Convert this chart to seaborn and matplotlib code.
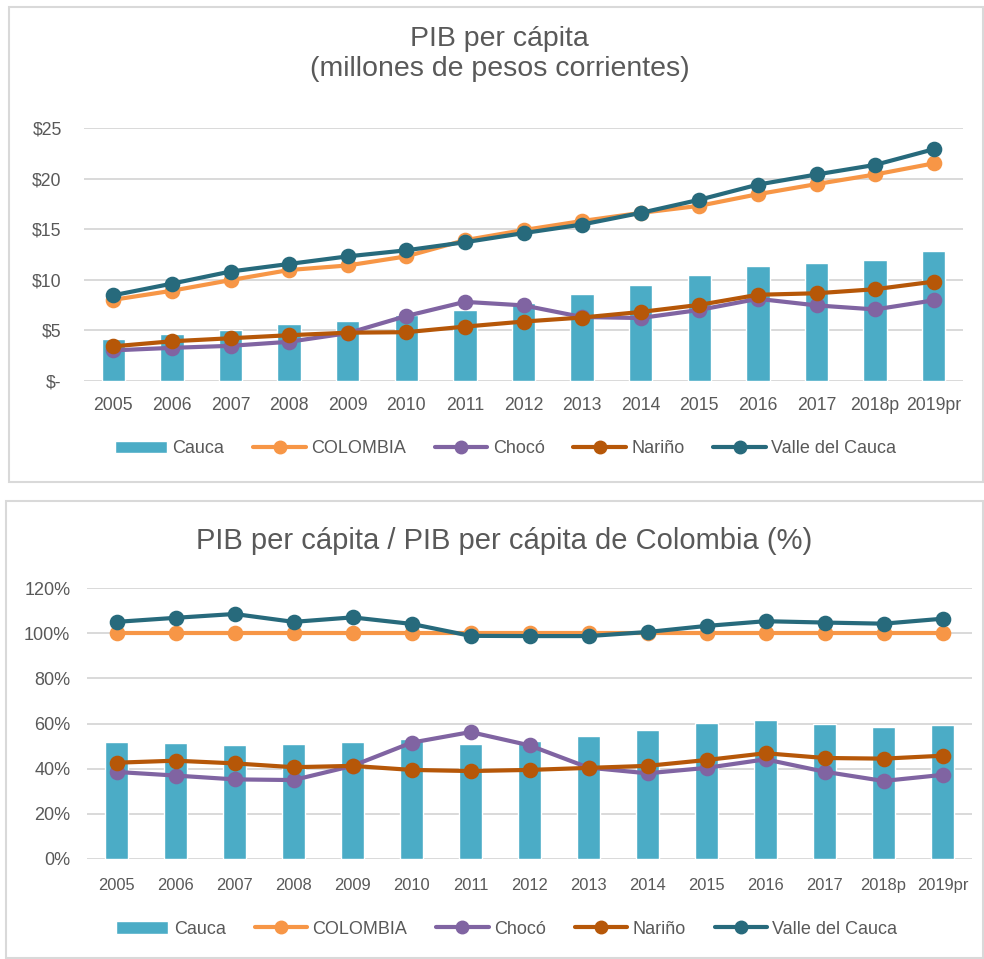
import numpy as np
import pandas as pd
import matplotlib
matplotlib.use('Agg')
import matplotlib.pyplot as plt
import seaborn as sns
from matplotlib.patches import Rectangle, Patch
from matplotlib.lines import Line2D
from matplotlib.ticker import FuncFormatter, MultipleLocator

anios = ['2005', '2006', '2007', '2008', '2009', '2010', '2011', '2012',
         '2013', '2014', '2015', '2016', '2017', '2018p', '2019pr']

# PIB per cápita, millones de pesos corrientes
cauca = [4.15, 4.6, 5.0, 5.6, 5.95, 6.5, 7.0, 7.7, 8.55, 9.5, 10.45, 11.35, 11.65, 11.95, 12.8]
colombia = [8.0, 8.9, 9.95, 10.95, 11.4, 12.3, 13.9, 14.9, 15.8, 16.6, 17.3, 18.45, 19.45, 20.4, 21.5]
choco = [3.0, 3.25, 3.45, 3.85, 4.7, 6.4, 7.8, 7.45, 6.3, 6.2, 7.0, 8.1, 7.45, 7.05, 7.95]
narino = [3.4, 3.9, 4.2, 4.5, 4.75, 4.8, 5.35, 5.85, 6.25, 6.8, 7.5, 8.5, 8.65, 9.05, 9.8]
valle = [8.45, 9.6, 10.8, 11.55, 12.3, 12.9, 13.7, 14.6, 15.45, 16.6, 17.9, 19.4, 20.4, 21.35, 22.9]

# PIB per cápita / PIB per cápita de Colombia (%)
cauca_pct = [51.8, 51.5, 50.5, 50.9, 51.8, 53.0, 50.8, 52.3, 54.5, 57.1, 60.2, 61.4, 59.8, 58.3, 59.3]
colombia_pct = [100, 100, 100, 100, 100, 100, 100, 100, 100, 100, 100, 100, 100, 100, 100]
choco_pct = [38.5, 36.9, 35.2, 34.9, 41.2, 51.5, 56.2, 50.3, 40.4, 37.9, 40.3, 44.1, 38.6, 34.5, 37.2]
narino_pct = [42.6, 43.5, 42.3, 40.6, 41.2, 39.4, 38.9, 39.4, 40.3, 41.2, 43.8, 46.8, 44.7, 44.4, 45.7]
valle_pct = [105.1, 106.9, 108.6, 105.1, 107.1, 104.2, 98.9, 98.8, 98.8, 100.6, 103.3, 105.4, 104.8, 104.3, 106.5]

series = ['COLOMBIA', 'Chocó', 'Nariño', 'Valle del Cauca']
colores = {'Cauca': '#4BACC6', 'COLOMBIA': '#F79646', 'Chocó': '#8064A2',
           'Nariño': '#B65708', 'Valle del Cauca': '#276A7C'}
gris = '#595959'
grilla = '#D9D9D9'

sns.set_theme(style='white')
plt.rcParams['font.family'] = ['Liberation Sans', 'DejaVu Sans']

fig = plt.figure(figsize=(9.84, 9.59), dpi=100)

# marcos de cada gráfico
fig.patches.append(Rectangle((9 / 984, 1 - 482 / 959), 974 / 984, 475 / 959,
                             transform=fig.transFigure, fill=False,
                             edgecolor=grilla, lw=1.5))
fig.patches.append(Rectangle((6 / 984, 1 - 958 / 959), 977 / 984, 457 / 959,
                             transform=fig.transFigure, fill=False,
                             edgecolor=grilla, lw=1.5))


def dibujar(ax, barras, lineas):
    sns.barplot(x=anios, y=barras, color=colores['Cauca'], saturation=1,
                width=0.4, ax=ax, zorder=2)
    for nombre, vals in zip(series, lineas):
        sns.pointplot(x=anios, y=vals, color=colores[nombre], markers='o',
                      linestyles='-', errorbar=None, markersize=9,
                      linewidth=3, ax=ax)
    ax.set_xlim(-0.5, len(anios) - 0.5)
    ax.set_axisbelow(True)
    ax.yaxis.grid(True, color=grilla, lw=1.4)
    ax.xaxis.grid(False)
    for s in ax.spines.values():
        s.set_visible(False)
    ax.set_xlabel('')
    ax.set_ylabel('')


def leyenda(y, x):
    handles = [Patch(facecolor=colores['Cauca'])]
    for nombre in series:
        handles.append(Line2D([], [], color=colores[nombre], lw=3,
                              marker='o', markersize=9))
    fig.legend(handles, ['Cauca'] + series, loc='center',
               bbox_to_anchor=(x, y), ncol=5, frameon=False, fontsize=13,
               handlelength=2.9, handletextpad=0.3, columnspacing=1.6,
               labelcolor=gris)


# Gráfico superior
ax1 = fig.add_axes([84 / 984, 1 - 380.7 / 959, 879 / 984, 252.7 / 959])
dibujar(ax1, cauca, [colombia, choco, narino, valle])
ax1.set_ylim(0, 25)
ax1.yaxis.set_major_locator(MultipleLocator(5))
ax1.yaxis.set_major_formatter(FuncFormatter(lambda v, _: '$-' if v == 0 else f'${v:.0f}'))
ax1.tick_params(axis='x', labelsize=12.7, colors=gris, length=0, pad=12)
ax1.tick_params(axis='y', labelsize=12.7, colors=gris, length=0, pad=16)
fig.text(0.508, 1 - 54 / 959, 'PIB per cápita\n(millones de pesos corrientes)',
         ha='center', va='center', fontsize=20.5, color=gris, linespacing=1.2)
leyenda(1 - 449 / 959, 0.5137)

# Gráfico inferior
ax2 = fig.add_axes([87 / 984, 1 - 858.7 / 959, 885 / 984, 270.4 / 959])
dibujar(ax2, cauca_pct, [colombia_pct, choco_pct, narino_pct, valle_pct])
ax2.set_ylim(0, 120)
ax2.yaxis.set_major_locator(MultipleLocator(20))
ax2.yaxis.set_major_formatter(FuncFormatter(lambda v, _: f'{v:.0f}%'))
ax2.tick_params(axis='x', labelsize=11.9, colors=gris, length=0, pad=14)
ax2.tick_params(axis='y', labelsize=13, colors=gris, length=0, pad=12)
fig.text(0.512, 1 - 541 / 959, 'PIB per cápita / PIB per cápita de Colombia (%)',
         ha='center', va='center', fontsize=21, color=gris)
leyenda(1 - 929 / 959, 0.515)

fig.savefig('out.png', dpi=100)
